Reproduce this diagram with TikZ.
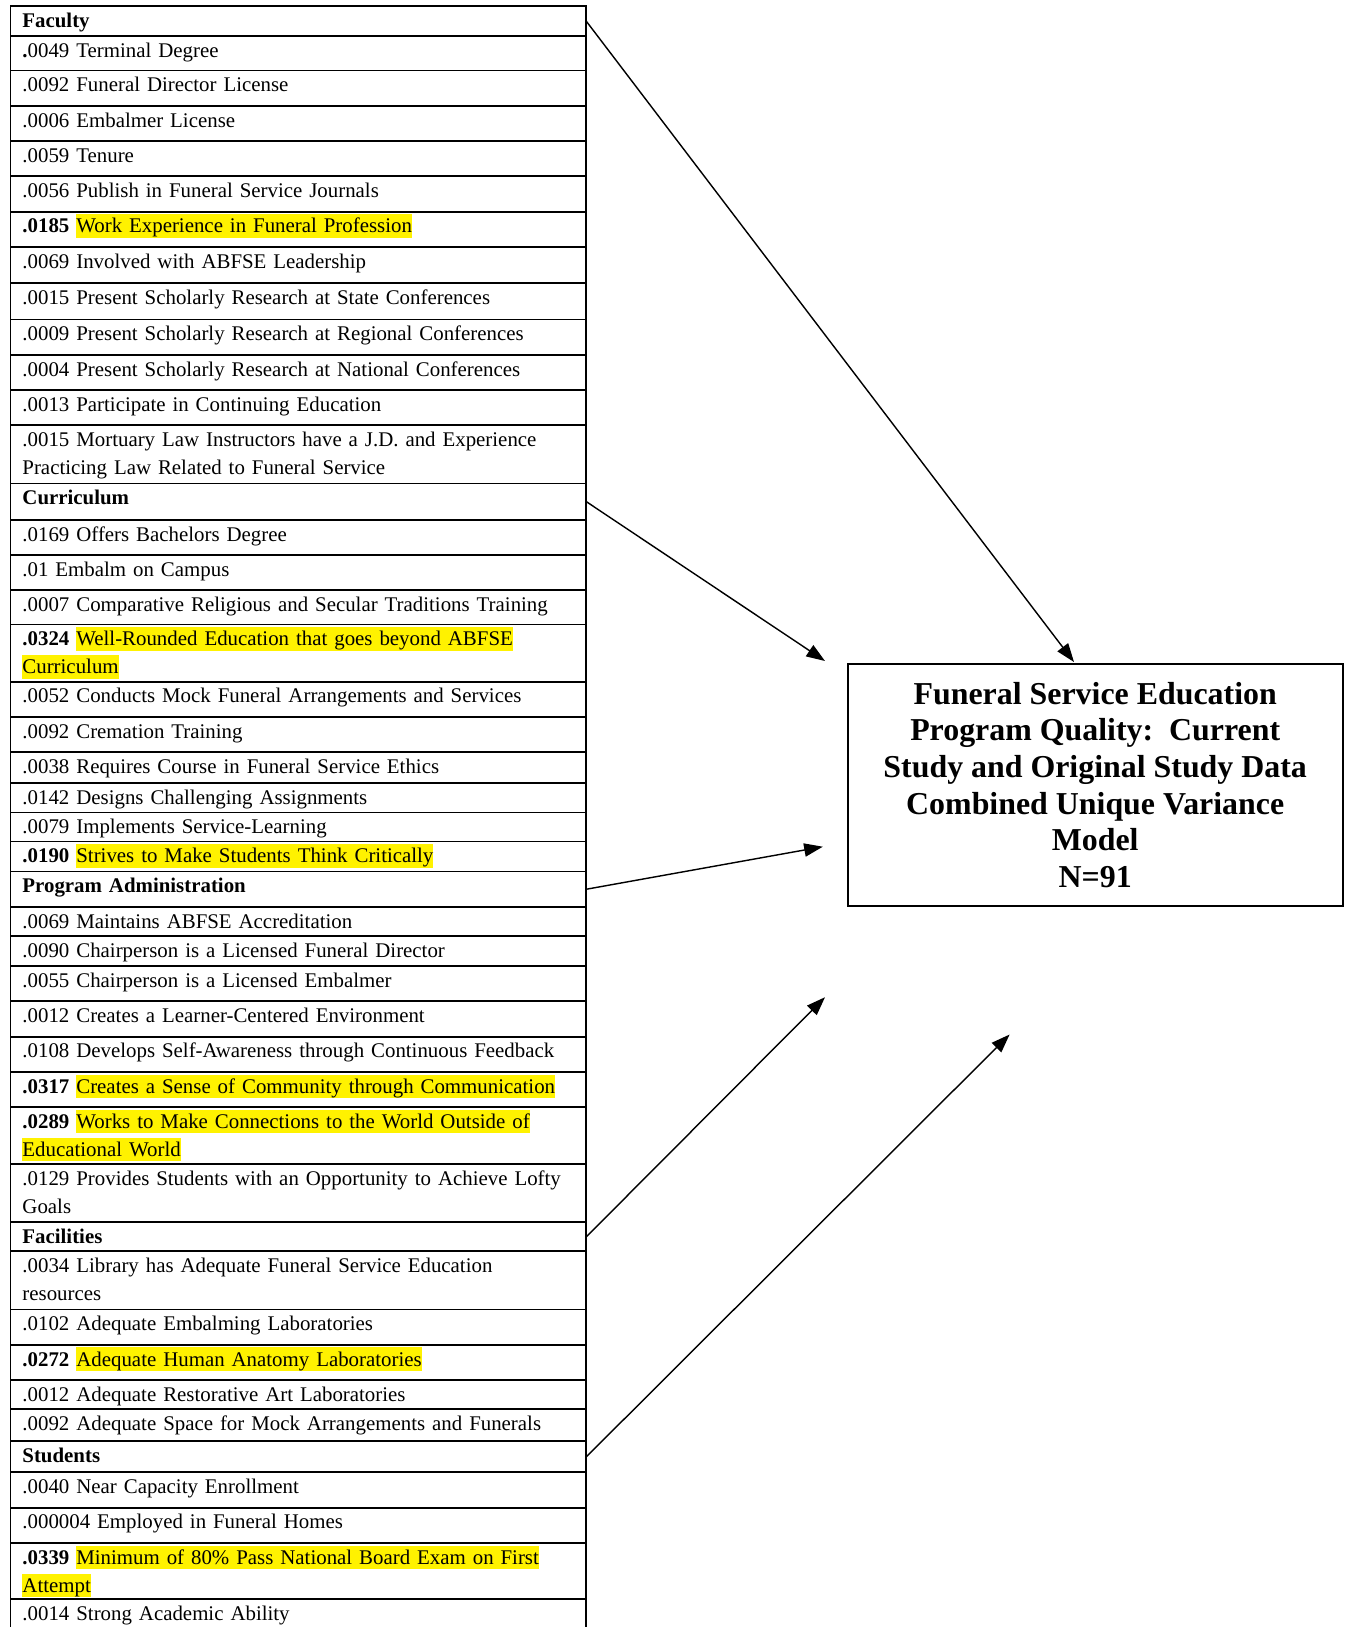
\documentclass[tikz,border=0pt]{standalone}
\usepackage{fontspec}
\setmainfont{Liberation Serif}
\usetikzlibrary{arrows.meta}
\newcommand\hlite[1]{{\setlength{\fboxsep}{0pt}\colorbox{yellow}{\rule[-2.8pt]{0pt}{13.3pt}#1}}}

\begin{document}
\begin{tikzpicture}[x = 0.5645pt, y = -0.5645pt,
  cell/.style = {draw, line width = 1pt, anchor = north west, outer sep = 0pt,
    text width = 311.5pt, inner xsep = 6.8pt, inner ysep = 0pt, align = left,
    text height = 12pt, text depth = {(#1-21.3)*0.5645},
    font = \fontsize{11.78}{15.8}\selectfont},
  head/.style = {cell = #1, font = \fontsize{11.78}{15.8}\selectfont\bfseries},
  arr/.style = {-{Triangle[length = 10.5pt, width = 7.5pt]}, line width = 0.8pt}]
\path [use as bounding box, clip] (0,0) rectangle (1348,1627);
\path [fill = white] (0,0) rectangle (1348,1627);

% faculty
\node [head = 30.1] (fac) at (10.4, 6.2) {Faculty};
\node [cell = 34.3] (f1) at (10.4, 36.3) {\textbf{.}0049 Terminal Degree};
\node [cell = 35.2] (f2) at (10.4, 70.6) {.0092 Funeral Director License};
\node [cell = 35.3] (f3) at (10.4, 105.8) {.0006 Embalmer License};
\node [cell = 35.3] (f4) at (10.4, 141.1) {.0059 Tenure};
\node [cell = 35.3] (f5) at (10.4, 176.4) {.0056 Publish in Funeral Service Journals};
\node [cell = 35.3] (f6) at (10.4, 211.7) {\textbf{.0185} \hlite{Work Experience in Funeral Profession}};
\node [cell = 36.3] (f7) at (10.4, 247.0) {.0069 Involved with ABFSE Leadership};
\node [cell = 36.3] (f8) at (10.4, 283.3) {.0015 Present Scholarly Research at State Conferences};
\node [cell = 35.3] (f9) at (10.4, 319.6) {.0009 Present Scholarly Research at Regional Conferences};
\node [cell = 35.2] (f10) at (10.4, 354.9) {.0004 Present Scholarly Research at National Conferences};
\node [cell = 35.3] (f11) at (10.4, 390.1) {.0013 Participate in Continuing Education};
\node [cell = 58.1] (f12) at (10.4, 425.4) {.0015 Mortuary Law Instructors have a J.D. and Experience\\Practicing Law Related to Funeral Service};

% curriculum
\node [head = 36.3] (cur) at (10.4, 483.5) {Curriculum};
\node [cell = 35.3] (c1) at (10.4, 519.8) {.0169 Offers Bachelors Degree};
\node [cell = 35.3] (c2) at (10.4, 555.1) {.01 Embalm on Campus};
\node [cell = 34.2] (c3) at (10.4, 590.4) {.0007 Comparative Religious and Secular Traditions Training};
\node [cell = 57.1] (c4) at (10.4, 624.6) {\textbf{.0324} \hlite{Well-Rounded Education that goes beyond ABFSE}\\\hlite{Curriculum}};
\node [cell = 35.3] (c5) at (10.4, 681.7) {.0052 Conducts Mock Funeral Arrangements and Services};
\node [cell = 35.3] (c6) at (10.4, 717.0) {.0092 Cremation Training};
\node [cell = 31.1] (c7) at (10.4, 752.3) {.0038 Requires Course in Funeral Service Ethics};
\node [cell = 29.1] (c8) at (10.4, 783.4) {.0142 Designs Challenging Assignments};
\node [cell = 29.0] (c9) at (10.4, 812.5) {.0079 Implements Service-Learning};
\node [cell = 30.1] (c10) at (10.4, 841.5) {\textbf{.0190} \hlite{Strives to Make Students Think Critically}};

% program administration
\node [head = 35.3] (adm) at (10.4, 871.6) {Program Administration};
\node [cell = 29.0] (a1) at (10.4, 906.9) {.0069 Maintains ABFSE Accreditation};
\node [cell = 30.1] (a2) at (10.4, 935.9) {.0090 Chairperson is a Licensed Funeral Director};
\node [cell = 35.3] (a3) at (10.4, 966.0) {.0055 Chairperson is a Licensed Embalmer};
\node [cell = 35.3] (a4) at (10.4, 1001.3) {.0012 Creates a Learner-Centered Environment};
\node [cell = 35.3] (a5) at (10.4, 1036.6) {.0108 Develops Self-Awareness through Continuous Feedback};
\node [cell = 35.3] (a6) at (10.4, 1071.9) {\textbf{.0317} \hlite{Creates a Sense of Community through Communication}};
\node [cell = 57.0] (a7) at (10.4, 1107.2) {\textbf{.0289} \hlite{Works to Make Connections to the World Outside of}\\\hlite{Educational World}};
\node [cell = 58.1] (a8) at (10.4, 1164.2) {.0129 Provides Students with an Opportunity to Achieve Lofty\\Goals};

% facilities
\node [head = 29.1] (fcl) at (10.4, 1222.3) {Facilities};
\node [cell = 58.1] (fl1) at (10.4, 1251.4) {.0034 Library has Adequate Funeral Service Education\\resources};
\node [cell = 35.3] (fl2) at (10.4, 1309.5) {.0102 Adequate Embalming Laboratories};
\node [cell = 35.3] (fl3) at (10.4, 1344.8) {\textbf{.0272} \hlite{Adequate Human Anatomy Laboratories}};
\node [cell = 29.0] (fl4) at (10.4, 1380.1) {.0012 Adequate Restorative Art Laboratories};
\node [cell = 32.2] (fl5) at (10.4, 1409.1) {.0092 Adequate Space for Mock Arrangements and Funerals};

% students
\node [head = 31.1] (stu) at (10.4, 1441.3) {Students};
\node [cell = 35.3] (st1) at (10.4, 1472.4) {.0040 Near Capacity Enrollment};
\node [cell = 35.3] (st2) at (10.4, 1507.7) {.000004 Employed in Funeral Homes};
\node [cell = 56.0] (st3) at (10.4, 1543.0) {\textbf{.0339} \hlite{Minimum of 80\% Pass National Board Exam on First}\\\hlite{Attempt}};
\node [cell = 40.0] (st4) at (10.4, 1599.0) {.0014 Strong Academic Ability};

% outcome
\node [draw, line width = 1pt, outer sep = 0pt, inner sep = 0pt, minimum width = 279.4pt,
  minimum height = 136.5pt, align = center, font = \fontsize{18}{20.7}\selectfont\bfseries]
  (model) at (1095.2, 784.8) {Funeral Service Education\\Program Quality:\ \ Current\\Study and Original Study Data\\Combined Unique Variance\\Model\\N=91};

\coordinate (toFac) at (1074, 662);
\coordinate (toCur) at (825, 661);
\coordinate (toAdm) at (822.8, 846.7);
\coordinate (toFcl) at (825, 997.2);
\coordinate (toStu) at (1009.6, 1034.5);
\path [draw, arr] (fac.east) -- (toFac);
\path [draw, arr] (cur.east) -- (toCur);
\path [draw, arr] (adm.east) -- (toAdm);
\path [draw, arr] (fcl.east) -- (toFcl);
\path [draw, arr] (stu.east) -- (toStu);
\end{tikzpicture}
\end{document}
